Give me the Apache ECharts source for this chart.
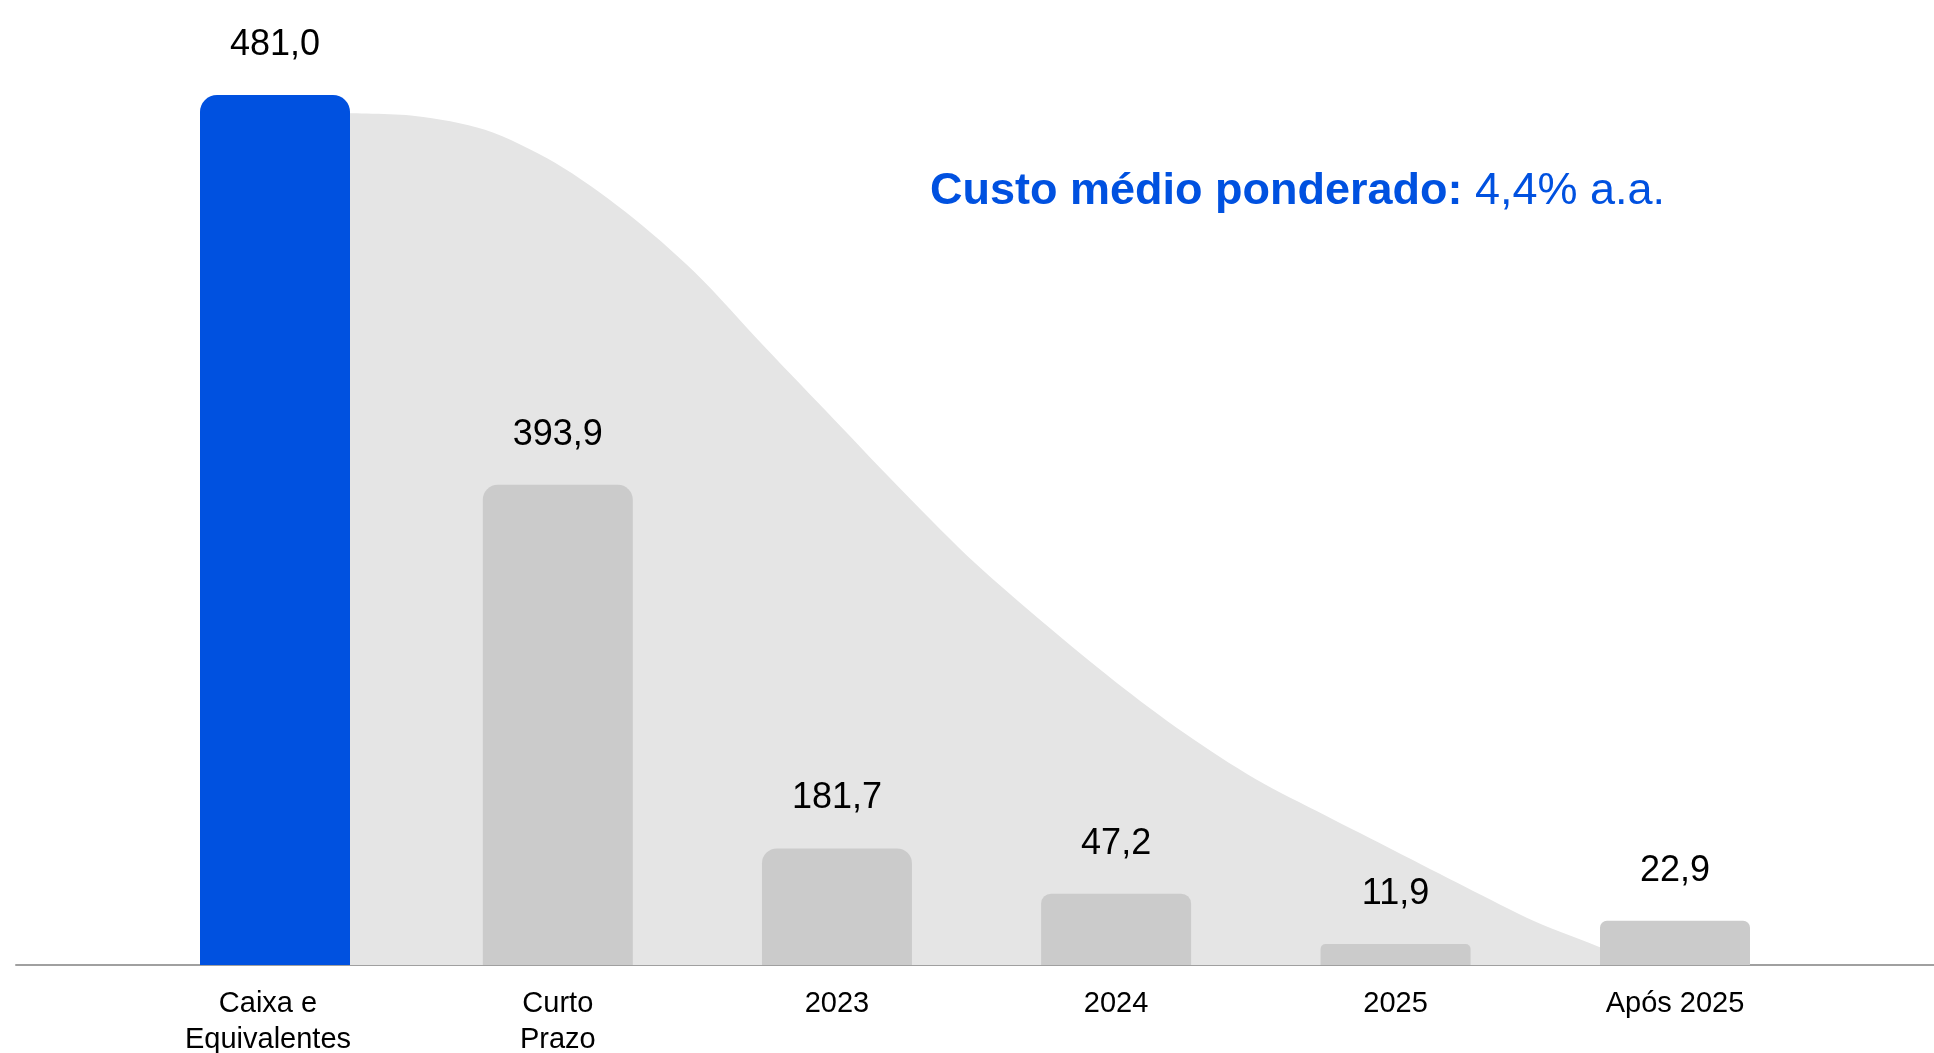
<!DOCTYPE html>
<html style="height: 100%">
<head>
    <meta charset="utf-8">
</head>
<body style="height: 100%; margin: 0; background: #ffffff">
<div id="main" style="width: 1934px; height: 1053px;"></div>

<script type="text/javascript" src="https://cdn.jsdelivr.net/npm/echarts@6/dist/echarts.min.js"></script>
<script type="text/javascript">

    // categorias e valores (R$ milhões)
    const categories = ['Caixa e\nEquivalentes', 'Curto\nPrazo', '2023', '2024', '2025', 'Após 2025'];
    const values = [481.0, 393.9, 181.7, 47.2, 11.9, 22.9];
    // posição de cada barra no eixo e altura desenhada (escala relativa, barra azul = 100)
    const barPos = [0, 1.01, 2.007, 3.004, 4.002, 5];
    const labelPos = [-0.025, 1.01, 2.007, 3.004, 4.002, 5];
    const barHeights = [100, 55.2, 13.4, 8.2, 2.4, 5.1];
    const barRadius = [17, 15, 15, 10, 5, 7];

    // curva cinza de fundo (x em posição de categoria, y na mesma escala das barras)
    const curveX = [0.25, 0.5, 0.75, 1.0, 1.25, 1.5, 1.75, 2.0, 2.25, 2.5, 2.75, 3.0, 3.25, 3.5, 3.75, 4.0, 4.25, 4.5, 4.75, 4.86];
    const curveY = [97.9, 97.6, 96.0, 92.2, 86.6, 79.6, 71.0, 62.6, 54.2, 46.2, 39.2, 32.6, 26.6, 21.4, 17.2, 13.1, 9.0, 5.0, 1.8, 0];

    const blue = '#0051e0';
    const fontFam = '"Liberation Sans", Arial, sans-serif';

    var chart = echarts.init(document.getElementById('main'));

    var barData = [];
    for (let i = 0; i < categories.length; i++) {
        barData.push({
            value: [barPos[i], barHeights[i]],
            itemStyle: {
                color: i === 0 ? blue : '#cbcbcb',
                borderRadius: [barRadius[i], barRadius[i], 0, 0]
            }
        });
    }

    var curveData = [];
    for (let i = 0; i < curveX.length; i++) {
        curveData.push([curveX[i], curveY[i]]);
    }

    var option = {
        animation: false,
        title: {
            left: 930,
            top: 169,
            padding: 0,
            text: '{b|Custo médio ponderado:}{n| 4,4% a.a.}',
            textStyle: {
                rich: {
                    b: {fontFamily: fontFam, fontSize: 45, fontWeight: 'bold', color: blue, lineHeight: 45},
                    n: {fontFamily: fontFam, fontSize: 45, fontWeight: 'normal', color: blue, lineHeight: 45}
                }
            }
        },
        grid: {
            left: 16,
            right: 0,
            top: 95,
            bottom: 88,
            containLabel: false,
            outerBoundsMode: 'none'
        },
        xAxis: {
            type: 'value',
            min: -0.925,
            max: 5.925,
            splitLine: {show: false},
            axisTick: {show: false},
            axisLine: {
                show: true,
                onZero: false,
                lineStyle: {color: '#a0a0a0', width: 2}
            },
            axisLabel: {
                customValues: labelPos,
                formatter: function (v) {
                    return categories[Math.round(v)];
                },
                margin: 21,
                color: '#000000',
                fontFamily: fontFam,
                fontSize: 29,
                lineHeight: 36
            }
        },
        yAxis: {
            type: 'value',
            min: 0,
            max: 100,
            show: false,
            splitLine: {show: false}
        },
        series: [
            {
                name: 'curva',
                type: 'line',
                z: 1,
                smooth: 0.3,
                showSymbol: false,
                lineStyle: {width: 0},
                areaStyle: {color: '#e5e5e5', opacity: 1},
                data: curveData
            },
            {
                name: 'barras',
                type: 'bar',
                z: 2,
                barWidth: 150,
                data: barData,
                label: {
                    show: true,
                    position: 'top',
                    distance: 32,
                    color: '#000000',
                    fontFamily: fontFam,
                    fontSize: 36,
                    lineHeight: 36,
                    formatter: function (p) {
                        return values[p.dataIndex].toFixed(1).replace('.', ',');
                    }
                }
            }
        ]
    };

    chart.setOption(option);

</script>
</body>
</html>
